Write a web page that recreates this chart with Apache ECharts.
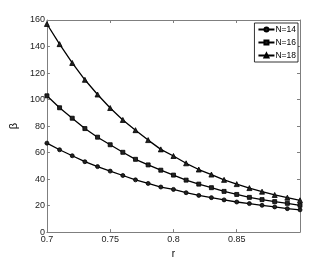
<!DOCTYPE html>
<html>
<head>
<meta charset="utf-8">
<script src="https://cdn.jsdelivr.net/npm/echarts@6/dist/echarts.min.js"></script>
<style>html,body{margin:0;padding:0;background:#fff;}#c{width:332px;height:264px;}</style>
</head>
<body>
<div id="c"></div>
<script>
const rValues = [0.70,0.71,0.72,0.73,0.74,0.75,0.76,0.77,0.78,0.79,0.80,0.81,0.82,0.83,0.84,0.85,0.86,0.87,0.88,0.89,0.90];
const n14 = [67.1,62.1,57.6,53.1,49.4,46.0,42.7,39.4,36.7,34.0,32.2,29.7,27.7,26.0,24.3,22.7,21.5,20.2,19.0,17.7,16.8];
const n16 = [102.8,93.8,85.9,78.1,71.6,65.9,60.2,54.9,50.7,46.7,43.0,39.2,36.2,33.5,30.7,28.4,26.2,24.5,23.0,21.7,20.2];
const n18 = [157.0,141.8,127.6,114.9,103.8,93.6,84.6,76.9,69.4,62.4,57.4,51.9,47.2,43.4,39.4,36.2,33.2,30.5,28.0,26.0,24.0];
const seriesNames = ['N=14','N=16','N=18'];
const xTicks = {min:0.7, max:0.9, interval:0.05};
const yTicks = {min:0, max:160, interval:20};

const font = 'Liberation Sans';
const axisGray = '#7f7f7f';
function pairs(arr){ return rValues.map((r,i)=>[r,arr[i]]); }
function mk(name, data, symbol, size){
  return {
    name, type:'line', data:pairs(data), symbol, symbolSize:size, showSymbol:true,
    lineStyle:{color:'#000', width:1.3},
    itemStyle:{color:'#222', borderColor:'#000', borderWidth:0.8},
    animation:false, z:3
  };
}
const chart = echarts.init(document.getElementById('c'), null, {renderer:'canvas'});
chart.setOption({
  animation:false,
  backgroundColor:'#fff',
  grid:{left:43, right:32, top:20, bottom:30, show:false},
  legend:{
    data:seriesNames, orient:'vertical', right:34, top:23,
    itemWidth:16, itemHeight:5, itemGap:4, padding:[2,2,2,3],
    backgroundColor:'#fff', borderColor:'#000', borderWidth:0.8,
    textStyle:{fontFamily:font, fontSize:8.5, color:'#000', padding:[0,0,0,-4]}
  },
  xAxis:[{
    type:'value', min:xTicks.min, max:xTicks.max, interval:xTicks.interval,
    name:'r', nameLocation:'middle', nameGap:13,
    nameTextStyle:{fontFamily:font, fontSize:10, color:'#000'},
    axisLine:{show:true, onZero:false, lineStyle:{color:axisGray, width:1}},
    axisTick:{show:true, inside:true, length:3, lineStyle:{color:axisGray}},
    axisLabel:{fontFamily:font, fontSize:9, color:'#222', margin:3, showMaxLabel:false},
    splitLine:{show:false}
  },{
    type:'value', position:'top', min:xTicks.min, max:xTicks.max, interval:xTicks.interval,
    axisLine:{show:true, onZero:false, lineStyle:{color:axisGray, width:1}},
    axisTick:{show:true, inside:true, length:3, lineStyle:{color:axisGray}},
    axisLabel:{show:false}, splitLine:{show:false}
  }],
  yAxis:[{
    type:'value', min:yTicks.min, max:yTicks.max, interval:yTicks.interval,
    name:'β', nameLocation:'middle', nameGap:24, nameRotate:90,
    nameTextStyle:{fontFamily:font, fontSize:11, color:'#000'},
    axisLine:{show:true, onZero:false, lineStyle:{color:axisGray, width:1}},
    axisTick:{show:true, inside:true, length:3, lineStyle:{color:axisGray}},
    axisLabel:{fontFamily:font, fontSize:9, color:'#222', margin:2},
    splitLine:{show:false}
  },{
    type:'value', position:'right', min:yTicks.min, max:yTicks.max, interval:yTicks.interval,
    axisLine:{show:true, onZero:false, lineStyle:{color:axisGray, width:1}},
    axisTick:{show:true, inside:true, length:3, lineStyle:{color:axisGray}},
    axisLabel:{show:false}, splitLine:{show:false}
  }],
  series:[
    mk(seriesNames[0], n14, 'circle', 4),
    mk(seriesNames[1], n16, 'rect', 4),
    mk(seriesNames[2], n18, 'triangle', 5)
  ]
});
</script>
</body>
</html>
